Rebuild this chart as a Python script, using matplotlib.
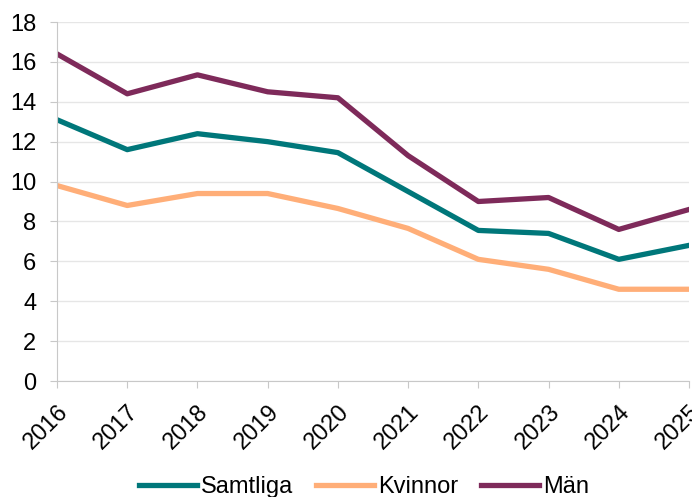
import matplotlib.pyplot as plt

plt.rcParams['font.family'] = ['Liberation Sans', 'DejaVu Sans']

years = [2016, 2017, 2018, 2019, 2020, 2021, 2022, 2023, 2024, 2025]
samtliga = [13.1, 11.6, 12.4, 12.0, 11.45, 9.5, 7.55, 7.4, 6.1, 6.8]
kvinnor = [9.8, 8.8, 9.4, 9.4, 8.65, 7.65, 6.1, 5.6, 4.6, 4.6]
man = [16.4, 14.4, 15.35, 14.5, 14.2, 11.3, 9.0, 9.2, 7.6, 8.6]

fig = plt.figure(figsize=(6.92, 4.97), dpi=100)
ax = fig.add_axes([57 / 692, 1 - 381 / 497, 632 / 692, 359 / 497])

ax.plot(years, samtliga, color='#00777A', lw=3.8, label='Samtliga')
ax.plot(years, kvinnor, color='#FFAE78', lw=3.8, label='Kvinnor')
ax.plot(years, man, color='#7E2A5A', lw=3.8, label='Män')

ax.set_xlim(2016, 2025)
ax.set_ylim(0, 18)
ax.set_yticks(range(0, 19, 2))
ax.set_xticks(years)
ax.set_xticklabels([str(y) for y in years], rotation=45, ha='right', va='top',
                   rotation_mode='anchor')
ax.tick_params(axis='both', labelsize=17, colors='#000000', length=5, color='#c8c8c8')
ax.tick_params(axis='x', pad=9)
ax.tick_params(axis='y', pad=10)
ax.grid(axis='y', color='#e6e6e6', lw=1)
ax.set_axisbelow(True)
for s in ['top', 'right']:
    ax.spines[s].set_visible(False)
for s in ['left', 'bottom']:
    ax.spines[s].set_color('#c8c8c8')

fig.legend(loc='center', bbox_to_anchor=(0.526, 0.02), ncol=3, frameon=False,
           fontsize=17, handlelength=2.45, handletextpad=0.15, columnspacing=1.0)

fig.savefig('out.png', dpi=100)
